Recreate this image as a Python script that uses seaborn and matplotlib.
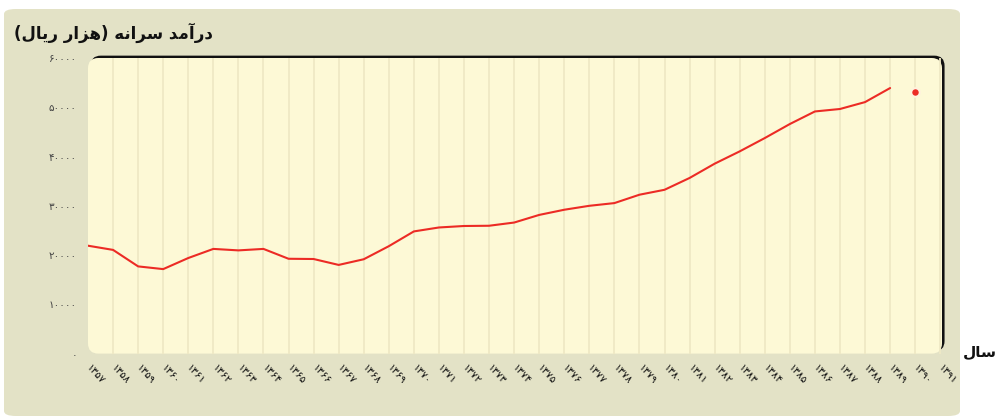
import matplotlib
matplotlib.use("Agg")
import matplotlib.pyplot as plt
import seaborn as sns
import pandas as pd
from matplotlib.patches import FancyBboxPatch

# ---------------- data ----------------
years = list(range(1357, 1390))
income = [21900, 21050, 17700, 17150, 19400, 21250, 20950, 21250, 19250, 19200,
          18000, 19150, 21800, 24800, 25600, 25900, 25950, 26600, 28150, 29200,
          30000, 30550, 32250, 33250, 35650, 38550, 41050, 43750, 46600, 49150,
          49650, 51050, 53900]
extra_year = [1390]
extra_value = [53200]
tick_years = list(range(1357, 1392))
y_ticks = [0, 10000, 20000, 30000, 40000, 50000, 60000]
title_text = "درآمد سرانه (هزار ریال)"
xlabel_text = "سال"

# ---------------- minimal Persian shaping ----------------
FORMS = {  # isolated, final, initial, medial
    'د': ('\uFEA9', '\uFEAA', None, None),
    'ر': ('\uFEAD', '\uFEAE', None, None),
    'ز': ('\uFEAF', '\uFEB0', None, None),
    'آ': ('\uFE81', '\uFE82', None, None),
    'ا': ('\uFE8D', '\uFE8E', None, None),
    'م': ('\uFEE1', '\uFEE2', '\uFEE3', '\uFEE4'),
    'س': ('\uFEB1', '\uFEB2', '\uFEB3', '\uFEB4'),
    'ن': ('\uFEE5', '\uFEE6', '\uFEE7', '\uFEE8'),
    'ه': ('\uFEE9', '\uFEEA', '\uFEEB', '\uFEEC'),
    'ی': ('\uFEEF', '\uFEF0', '\uFEF3', '\uFEF4'),
    'ل': ('\uFEDD', '\uFEDE', '\uFEDF', '\uFEE0'),
}


def dual(c):
    return c in FORMS and FORMS[c][2] is not None


def shape(text):
    out = []
    for i, c in enumerate(text):
        if c not in FORMS:
            out.append(c)
            continue
        prev = text[i - 1] if i > 0 else ''
        nxt = text[i + 1] if i + 1 < len(text) else ''
        jp = dual(prev)
        jn = dual(c) and nxt in FORMS
        f = FORMS[c]
        if jp and jn:
            out.append(f[3])
        elif jp:
            out.append(f[1])
        elif jn:
            out.append(f[2])
        else:
            out.append(f[0])
    mirror = {'(': ')', ')': '('}
    return ''.join(mirror.get(c, c) for c in reversed(out))


FA = str.maketrans('0123456789', '۰۱۲۳۴۵۶۷۸۹')


def fa(n):
    return str(n).translate(FA)


# ---------------- figure ----------------
sns.set_theme(style="white")
plt.rcParams['font.family'] = ['DejaVu Sans']

W, H = 1001, 416
fig = plt.figure(figsize=(W / 100, H / 100), dpi=100, facecolor='white')

# beige outer panel
panel = FancyBboxPatch((4 / W, 0.0), 956 / W, (H - 9) / H,
                       boxstyle="round,pad=0,rounding_size=0.012",
                       transform=fig.transFigure, facecolor='#e3e2c6',
                       edgecolor='none', zorder=-5)
fig.patches.append(panel)

L, R, T, B = 88, 942, 58, 353.6
ax = fig.add_axes([L / W, 1 - B / H, (R - L) / W, (B - T) / H])
ax.set_zorder(1)
ax.set_facecolor('none')

asp = (R - L) / (B - T)
# plot background (cream) with dark top/right edge
shadow = FancyBboxPatch((0.003, 0.008), 1.0, 1.0,
                        boxstyle="round,pad=0,rounding_size=0.012",
                        transform=ax.transAxes, facecolor='#111111',
                        edgecolor='none', zorder=0, clip_on=False,
                        mutation_aspect=asp)
ax.add_patch(shadow)
cream = FancyBboxPatch((0.0, 0.0), 1.0, 1.0,
                       boxstyle="round,pad=0,rounding_size=0.012",
                       transform=ax.transAxes, facecolor='#fdf9d6',
                       edgecolor='none', zorder=0.5, clip_on=False,
                       mutation_aspect=asp)
ax.add_patch(cream)

for yv in tick_years[1:]:
    ax.axvline(yv, color='#efe9c5', linewidth=1.3, zorder=1)

df = pd.DataFrame({'year': years, 'income': income})
sns.lineplot(data=df, x='year', y='income', color='#ec2b25', linewidth=1.5,
             ax=ax, zorder=3)
sns.scatterplot(x=extra_year, y=extra_value, color='#ec2b25', s=38,
                edgecolor='#fff2dd', linewidth=1.5, ax=ax, zorder=4)

ax.set_xlim(1357, 1391.07)
ax.set_ylim(0, 60000)
for s in ax.spines.values():
    s.set_visible(False)

ax.set_yticks(y_ticks)
ax.set_yticklabels([fa(v) for v in y_ticks], fontsize=7.5, color='#444444')
ax.set_xticks(tick_years)
ax.set_xticklabels([fa(v) for v in tick_years], fontsize=7.5, color='#111111',
                   rotation=-48, ha='left', va='center', rotation_mode='anchor')
ax.tick_params(axis='y', length=0, pad=8)
ax.tick_params(axis='x', length=0, pad=9)
ax.set_xlabel('')
ax.set_ylabel('')
ax.grid(False)

fig.text(14 / W, 1 - 33 / H, shape(title_text), fontsize=12,
         fontweight='bold', color='#111111', ha='left', va='center')
fig.text(963 / W, 1 - 352 / H, shape(xlabel_text), fontsize=11,
         fontweight='bold', color='#111111', ha='left', va='center')

fig.savefig('out.png', dpi=100, facecolor='white')
